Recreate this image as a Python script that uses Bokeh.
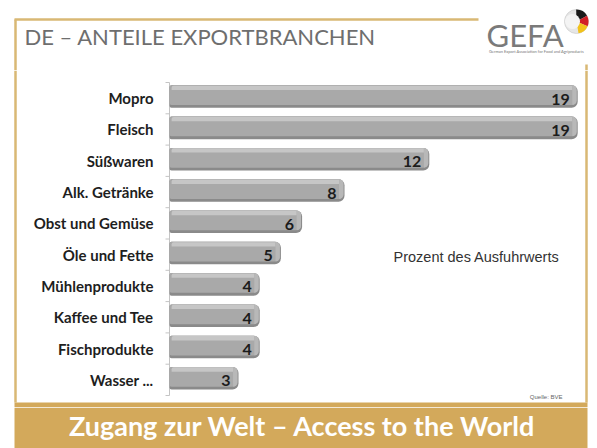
from bokeh.plotting import figure
from bokeh.models import Range1d, FactorRange, ColumnDataSource, LinearScale
from bokeh.layouts import column
from bokeh.transform import dodge
from bokeh.core.properties import value
from bokeh.embed import file_html
from bokeh.resources import INLINE

# ---------------- data ----------------
categories = ["Mopro", "Fleisch", "Süßwaren", "Alk. Getränke", "Obst und Gemüse",
              "Öle und Fette", "Mühlenprodukte", "Kaffee und Tee", "Fischprodukte", "Wasser ..."]
shares = [19, 19, 12, 8, 6, 5, 4, 4, 4, 3]
value_labels = ["19", "19", "12", "8", "6", "5", "4", "4", "4", "3"]

title_text = "DE – ANTEILE EXPORTBRANCHEN"
unit_note = "Prozent des Ausfuhrwerts"
source_note = "Quelle: BVE"
footer_text = "Zugang zur Welt – Access to the World"
logo_text = "GEFA"
logo_sub = "German Export Association for Food and Agriproducts"

# ---------------- styling ----------------
W = 597
K = 21.2            # pixels per percent
X0 = 169            # pixel position of value 0
CAP = 5.4 / K       # 3D cap of the bars
ROW = 31.3          # pixels per category row
TOP_H, MID_H, BOT_H = 70, 337, 41
PAD = (MID_H / ROW - len(categories)) / 2
GOLD_LINE = "#d9b874"
GOLD_BAR = "#d3a95b"
FONT = value("Lato")


def base_fig(h, xr, yr):
    p = figure(width=W, height=h, x_range=xr, y_range=yr, toolbar_location=None,
               output_backend="svg", x_axis_location=None, y_axis_location=None,
               min_border=0, outline_line_color=None, background_fill_color="white",
               border_fill_color="white", title=None)
    p.grid.grid_line_color = None
    return p


def sy(py):
    """page pixel row -> synthetic coordinate of the categorical chart band"""
    return len(categories) + PAD - (py - TOP_H) / ROW


# ---------------- top band ----------------
top = base_fig(TOP_H, Range1d(0, W), Range1d(TOP_H, 0))
top.segment(x0=[14, 15, 586], y0=[19, 19, 64], x1=[478, 15, 586], y1=[19, TOP_H, TOP_H],
            line_color=GOLD_LINE, line_width=2.5)
top.text(x=[24], y=[36], text=[title_text], text_font=FONT, text_font_size="22px",
         text_color="#6e6e6e", text_baseline="middle", text_align="left")
top.text(x=[486], y=[34], text=[logo_text], text_font=FONT, text_font_size="31px",
         text_color="#7a7a7a", text_baseline="middle", text_align="left")
top.text(x=[536], y=[51], text=[logo_sub], text_font=FONT, text_font_size="4px",
         text_color="#777777", text_baseline="middle", text_align="center")
# logo ball
top.circle(x=[576], y=[21], radius=12, fill_color="#e6e6e6", line_color="#cfcfcf", line_width=0.8)
top.wedge(x=[576], y=[21], radius=12, start_angle=[0.5], end_angle=[1.6],
          fill_color="#1a1a1a", line_color=None)
top.wedge(x=[576], y=[21], radius=12, start_angle=[-0.4], end_angle=[0.5],
          fill_color="#d11f26", line_color=None)
top.wedge(x=[576], y=[21], radius=12, start_angle=[-1.4], end_angle=[-0.4],
          fill_color="#f2c21a", line_color=None)
top.circle(x=[572], y=[21], radius=7.5, fill_color="#f4f4f4", line_color=None)

# ---------------- chart band ----------------
mid = base_fig(MID_H, Range1d(-X0 / K, (W - X0) / K),
               FactorRange(factors=categories[::-1], range_padding=PAD,
                           range_padding_units="absolute"))
mid.extra_x_ranges = {"px": Range1d(0, W)}
mid.extra_x_scales = {"px": LinearScale()}
yr = mid.y_range

src = ColumnDataSource(dict(cat=categories, v=shares,
                            end=[s + CAP for s in shares],
                            body=[s + CAP - 0.05 for s in shares],
                            label=value_labels))

# frame lines
mid.segment(x0=[15, 586], x1=[15, 586], y0=[sy(TOP_H), sy(TOP_H)], y1=[sy(402), sy(402)],
            x_range_name="px", line_color=GOLD_LINE, line_width=2.5)
mid.quad(left=[14], right=[587], top=[sy(402)], bottom=[sy(TOP_H + MID_H)],
         x_range_name="px", fill_color=GOLD_BAR, line_color=None)

# category axis
axis_src = ColumnDataSource(dict(c0=[categories[0]], c1=[categories[-1]]))
mid.segment(x0=0, x1=0, y0=dodge("c0", 0.5, range=yr), y1=dodge("c1", -0.5, range=yr),
            source=axis_src, line_color="#c4c4c4", line_width=1)
mid.segment(x0=0, x1=-4 / K, y0=dodge("cat", 0.5, range=yr), y1=dodge("cat", 0.5, range=yr),
            source=src, line_color="#c4c4c4", line_width=1)
mid.segment(x0=0, x1=-4 / K, y0=dodge("c1", -0.5, range=yr), y1=dodge("c1", -0.5, range=yr),
            source=axis_src, line_color="#c4c4c4", line_width=1)

# 3D-like bars
mid.hbar(y=dodge("cat", 0.05, range=yr), left=0, right="end", height=0.72, source=src,
         fill_color="#8a8a8a", line_color=None, border_radius=(2, 6, 6, 2))
mid.hbar(y=dodge("cat", 0.095, range=yr), left=0, right="body", height=0.63, source=src,
         fill_color="#a9a9a9", line_color=None, border_radius=(2, 5, 5, 2))
mid.hbar(y=dodge("cat", 0.33, range=yr), left=0.1, right="v", height=0.14, source=src,
         fill_color="#c6c6c6", line_color=None, border_radius=(2, 0, 0, 0))
mid.hbar(y=dodge("cat", 0.095, range=yr), left="v", right="body", height=0.63, source=src,
         fill_color="#b8b8b8", line_color=None, border_radius=(0, 5, 5, 0))

# value labels
mid.text(x="end", y="cat", text="label", source=src, x_offset=-8, y_offset=1,
         text_align="right", text_baseline="middle", text_font=FONT,
         text_font_style="bold", text_font_size="16px", text_color="#1c1c1c")
# category labels
mid.text(x=153, y="cat", text="cat", source=src, x_range_name="px",
         text_align="right", text_baseline="middle", text_font=FONT,
         text_font_style="bold", text_font_size="15px", text_color="#1e1e1e")

mid.text(x=[393], y=[sy(256)], text=[unit_note], x_range_name="px",
         text_align="left", text_baseline="middle", text_font=value("Liberation Sans"),
         text_font_size="14.5px", text_color="#333333")
mid.text(x=[562], y=[sy(396)], text=[source_note], x_range_name="px",
         text_align="right", text_baseline="middle", text_font=value("Liberation Sans"),
         text_font_size="6px", text_color="#666666")

# ---------------- footer band ----------------
bot = base_fig(BOT_H, Range1d(0, W), Range1d(448, TOP_H + MID_H))
bot.quad(left=[14], right=[587], top=[TOP_H + MID_H], bottom=[448],
         fill_color=GOLD_BAR, line_color=None)
bot.text(x=[302], y=[425], text=[footer_text], text_font=FONT, text_font_style="bold",
         text_font_size="27px", text_color="white", text_align="center", text_baseline="middle")

layout = column(top, mid, bot, spacing=0)
open("out.html", "w").write(file_html(layout, INLINE))
